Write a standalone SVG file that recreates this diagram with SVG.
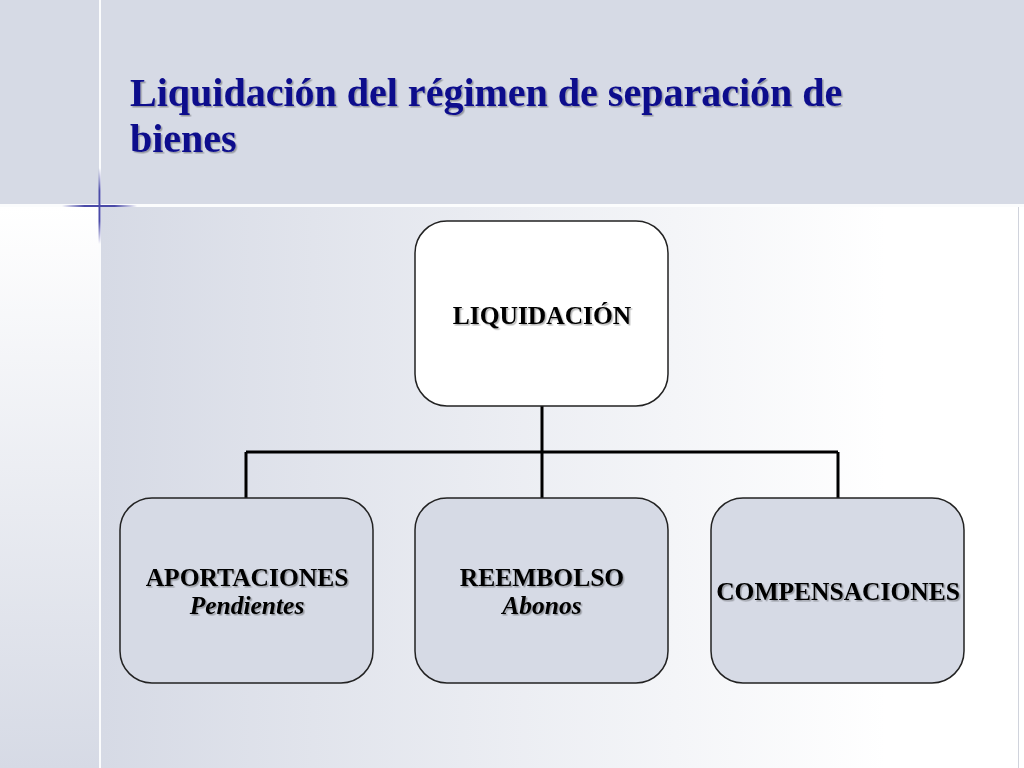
<svg xmlns="http://www.w3.org/2000/svg" width="1024" height="768" viewBox="0 0 1024 768">
<defs>
<linearGradient id="mainBg" x1="0" y1="0" x2="1" y2="0">
<stop offset="0" stop-color="#d6dae5"/>
<stop offset="0.85" stop-color="#ffffff"/>
<stop offset="1" stop-color="#ffffff"/>
</linearGradient>
<linearGradient id="leftBg" x1="0" y1="0" x2="0" y2="1">
<stop offset="0" stop-color="#ffffff"/>
<stop offset="1" stop-color="#d6dae5"/>
</linearGradient>
<linearGradient id="hBlue" x1="0" y1="0" x2="1" y2="0">
<stop offset="0" stop-color="#4a4aa8" stop-opacity="0"/>
<stop offset="0.3" stop-color="#4a4aa8"/>
<stop offset="0.7" stop-color="#4a4aa8"/>
<stop offset="1" stop-color="#4a4aa8" stop-opacity="0"/>
</linearGradient>
<linearGradient id="vBlue" x1="0" y1="0" x2="0" y2="1">
<stop offset="0" stop-color="#4a4aa8" stop-opacity="0"/>
<stop offset="0.3" stop-color="#4a4aa8"/>
<stop offset="0.7" stop-color="#4a4aa8"/>
<stop offset="1" stop-color="#4a4aa8" stop-opacity="0"/>
</linearGradient>
<filter id="shadow" x="-5%" y="-20%" width="110%" height="140%">
<feDropShadow dx="1.5" dy="1.5" stdDeviation="0.6" flood-color="#000" flood-opacity="0.3"/>
</filter>
</defs>
<style>
.box{stroke:#222;stroke-width:1.5}
.lbl{font-family:"Liberation Serif","Times New Roman",serif;font-weight:bold;font-size:25.5px;fill:#000;text-anchor:middle;filter:url(#shadow)}
.it{font-style:italic}
.conn{stroke:#000;stroke-width:3;fill:none}
.title{font-family:"Liberation Serif","Times New Roman",serif;font-weight:bold;font-size:40px;fill:#0a0a8c;filter:url(#shadow)}
</style>
<rect x="0" y="0" width="1024" height="768" fill="#d6dae5"/>
<rect x="0" y="207" width="99" height="561" fill="url(#leftBg)"/>
<rect x="101" y="207" width="923" height="561" fill="url(#mainBg)"/>
<rect x="0" y="204" width="1024" height="3" fill="#ffffff" opacity="0.9"/>
<rect x="99" y="0" width="2" height="768" fill="#ffffff" opacity="0.9"/>
<rect x="1018" y="207" width="1" height="561" fill="#d0d3dc"/>
<rect x="62" y="205" width="75" height="2" fill="url(#hBlue)"/>
<rect x="98.5" y="168" width="2" height="76" fill="url(#vBlue)"/>
<text class="title" x="130" y="106">Liquidación del régimen de separación de</text>
<text class="title" x="130" y="152">bienes</text>
<g id="connectors">
<path class="conn" d="M542 406 V452 M246 452 H838 M246 452 V498 M542 452 V498 M838 452 V498"/>
</g>
<g id="liquidacion">
<rect class="box" x="415" y="221" width="253" height="185" rx="32" fill="#ffffff"/>
<text class="lbl" x="542" y="324">LIQUIDACIÓN</text>
</g>
<g id="aportaciones">
<rect class="box" x="120" y="498" width="253" height="185" rx="32" fill="#d6dae5"/>
<text class="lbl" x="247" y="586">APORTACIONES</text>
<text class="lbl it" x="247" y="614">Pendientes</text>
</g>
<g id="reembolso">
<rect class="box" x="415" y="498" width="253" height="185" rx="32" fill="#d6dae5"/>
<text class="lbl" x="542" y="586">REEMBOLSO</text>
<text class="lbl it" x="542" y="614">Abonos</text>
</g>
<g id="compensaciones">
<rect class="box" x="711" y="498" width="253" height="185" rx="32" fill="#d6dae5"/>
<text class="lbl" x="838" y="600">COMPENSACIONES</text>
</g>
</svg>
